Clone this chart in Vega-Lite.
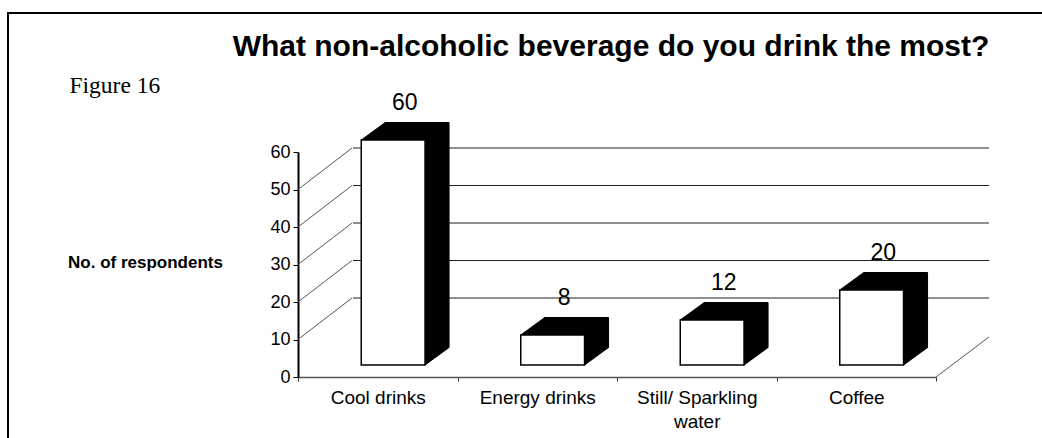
{
  "$schema": "https://vega.github.io/schema/vega-lite/v6.json",
  "width": 1036,
  "height": 427,
  "autosize": {"type": "none"},
  "padding": {"left": 8, "top": 13, "right": -2, "bottom": -2},
  "background": "white",
  "config": {
    "view": {"stroke": "black", "strokeWidth": 2},
    "font": "Liberation Sans"
  },
  "title": {
    "text": "What non-alcoholic beverage do you drink the most?",
    "font": "Liberation Sans",
    "fontSize": 30,
    "fontWeight": "bold",
    "color": "black",
    "anchor": "middle",
    "frame": "group",
    "offset": -34,
    "baseline": "middle",
    "dx": 85,
    "dy": 30
  },
  "datasets": {
    "bars": [
      {"category": "Cool drinks", "value": 60},
      {"category": "Energy drinks", "value": 8},
      {"category": "Still/ Sparkling water", "value": 12},
      {"category": "Coffee", "value": 20}
    ],
    "grid": [{"v": 10}, {"v": 20}, {"v": 30}, {"v": 40}, {"v": 50}]
  },
  "data": {"name": "bars"},
  "layer": [
    {
      "data": {"name": "grid"},
      "mark": {"type": "rule", "color": "#222222", "strokeWidth": 1, "xOffset": 55, "x2Offset": 53, "yOffset": -41.5},
      "encoding": {
        "x": {"datum": "Cool drinks", "type": "nominal", "bandPosition": 0},
        "x2": {"datum": "Coffee", "bandPosition": 1},
        "y": {"field": "v", "type": "quantitative"}
      }
    },
    {
      "data": {"name": "grid"},
      "mark": {"type": "rule", "color": "#555555", "strokeWidth": 1, "x2Offset": 54, "y2Offset": -41.5},
      "encoding": {
        "x": {"datum": "Cool drinks", "type": "nominal", "bandPosition": 0},
        "x2": {"datum": "Cool drinks", "bandPosition": 0},
        "y": {"field": "v", "type": "quantitative"},
        "y2": {"field": "v"}
      }
    },
    {
      "transform": [{"filter": "datum.category == 'Coffee'"}],
      "mark": {"type": "rule", "color": "#555555", "strokeWidth": 1, "x2Offset": 53, "y2Offset": -40},
      "encoding": {
        "x": {"field": "category", "type": "nominal", "bandPosition": 1},
        "x2": {"field": "category", "bandPosition": 1},
        "y": {"datum": 0, "type": "quantitative"},
        "y2": {"datum": 0}
      }
    },
    {
      "mark": {"type": "bar", "fill": "black", "stroke": "black", "strokeWidth": 1, "width": {"band": 0.4}, "xOffset": 39.4, "yOffset": -29.5, "y2Offset": -29.5},
      "encoding": {
        "x": {"field": "category", "type": "nominal"},
        "y": {"field": "value", "type": "quantitative"}
      }
    },
    {
      "mark": {"type": "point", "shape": "M0,0L1,-0.729L1,0Z", "size": 2304, "filled": true, "fill": "black", "stroke": "black", "strokeWidth": 1, "opacity": 1, "xOffset": -16.5, "yOffset": -12},
      "encoding": {
        "x": {"field": "category", "type": "nominal"},
        "y": {"field": "value", "type": "quantitative"}
      }
    },
    {
      "mark": {"type": "point", "shape": "M0,0L0,-0.729L1,-0.729Z", "size": 2304, "filled": true, "fill": "black", "stroke": "black", "strokeWidth": 1, "opacity": 1, "xOffset": 47.3, "yOffset": -12},
      "encoding": {
        "x": {"field": "category", "type": "nominal"},
        "y": {"datum": 0, "type": "quantitative"}
      }
    },
    {
      "mark": {"type": "bar", "fill": "white", "stroke": "black", "strokeWidth": 1.5, "width": {"band": 0.4}, "xOffset": 15.4, "yOffset": -12, "y2Offset": -12},
      "encoding": {
        "x": {
          "field": "category",
          "type": "nominal",
          "sort": ["Cool drinks", "Energy drinks", "Still/ Sparkling water", "Coffee"],
          "scale": {"domain": ["Cool drinks", "Energy drinks", "Still/ Sparkling water", "Coffee"], "range": [290, 928], "paddingInner": 0, "paddingOuter": 0},
          "axis": {
            "orient": "bottom",
            "offset": -63,
            "tickBand": "extent",
            "domainColor": "#555555",
            "domainWidth": 1.5,
            "tickColor": "#333333",
            "tickSize": 4,
            "tickWidth": 1,
            "labelAngle": 0,
            "labelAlign": "center",
            "labelBaseline": "top",
            "labelFont": "Liberation Sans",
            "labelFontSize": 19,
            "labelColor": "black",
            "labelPadding": 7,
            "labelLineHeight": 24,
            "labelOverlap": false,
            "labelExpr": "datum.value == 'Still/ Sparkling water' ? ['Still/ Sparkling', 'water'] : datum.label",
            "title": "Figure 16",
            "titleFont": "Liberation Serif",
            "titleFontSize": 23.5,
            "titleFontWeight": "normal",
            "titleColor": "black",
            "titleX": 61,
            "titleY": -292,
            "titleAlign": "left",
            "titleBaseline": "middle"
          }
        },
        "y": {
          "field": "value",
          "type": "quantitative",
          "scale": {"domain": [0, 60], "range": [364, 139], "nice": false, "zero": true},
          "axis": {
            "values": [0, 10, 20, 30, 40, 50, 60],
            "offset": -290,
            "grid": false,
            "domainColor": "black",
            "domainWidth": 2,
            "tickColor": "black",
            "tickSize": 5,
            "tickWidth": 1,
            "labelFont": "Liberation Sans",
            "labelFontSize": 18,
            "labelColor": "black",
            "labelPadding": 3,
            "title": "No. of respondents",
            "titleAngle": 0,
            "titleX": -153,
            "titleY": 249,
            "titleAlign": "center",
            "titleBaseline": "middle",
            "titleFont": "Liberation Sans",
            "titleFontSize": 17,
            "titleFontWeight": "bold",
            "titleColor": "black"
          }
        }
      }
    },
    {
      "mark": {"type": "text", "font": "Liberation Sans", "fontSize": 23, "color": "black", "align": "center", "baseline": "middle", "dx": 27, "dy": -49},
      "encoding": {
        "x": {"field": "category", "type": "nominal"},
        "y": {"field": "value", "type": "quantitative"},
        "text": {"field": "value", "type": "quantitative"}
      }
    }
  ]
}
